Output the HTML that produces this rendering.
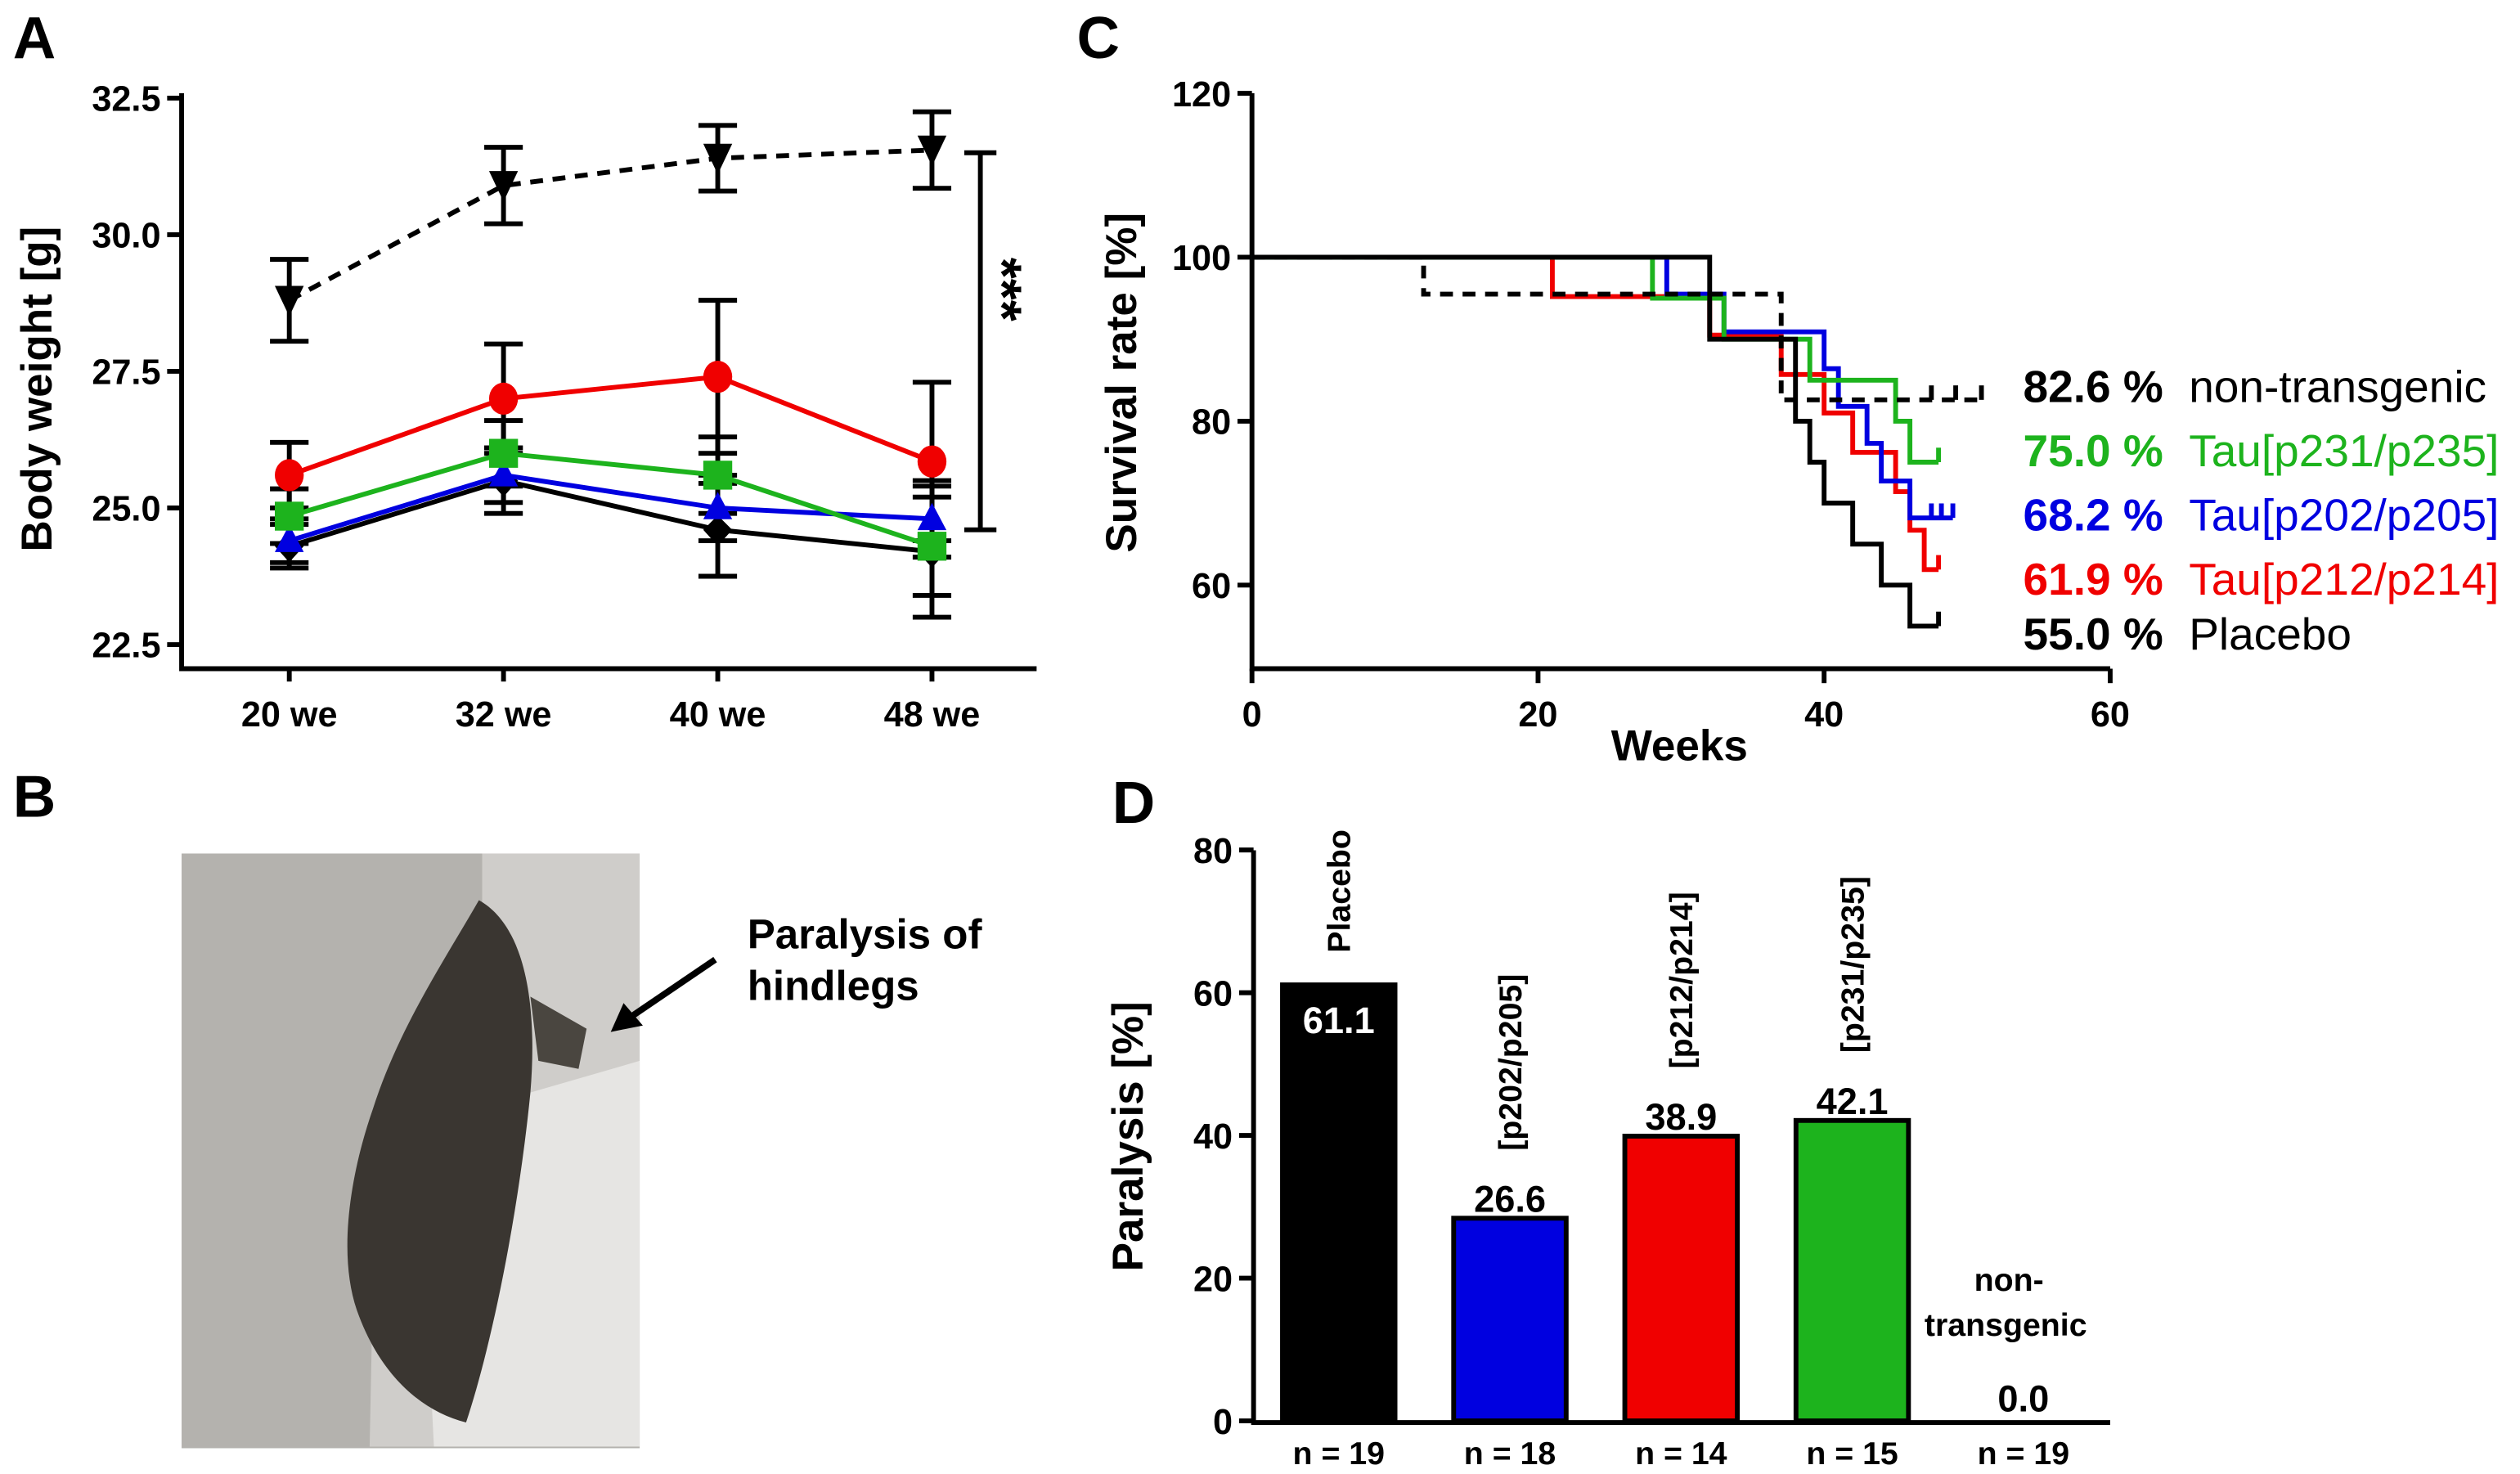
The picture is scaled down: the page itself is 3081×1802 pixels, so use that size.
<!DOCTYPE html>
<html><head><meta charset="utf-8"><style>
html,body{margin:0;padding:0;background:#fff}
svg{display:block;font-family:"Liberation Sans",Arial,sans-serif}
</style></head><body>
<svg id="fig" width="3081" height="1802" viewBox="0 0 1568 917" xmlns="http://www.w3.org/2000/svg">
<rect width="1568" height="917" fill="#fff"/>
<g font-weight="bold" font-size="37">
<text x="8" y="36">A</text>
<text x="8" y="508">B</text>
<text x="670" y="36">C</text>
<text x="692" y="512">D</text>
</g>
<g id="pA"></g>
<g id="pB">
<rect x="113" y="531" width="285" height="370" fill="#b4b2ae"/>
<path d="M300 531 L398 531 L398 900 L230 900 L232 800 L300 700 Z" fill="#cfcdca"/>
<path d="M260 700 L398 660 L398 900 L270 900 Z" fill="#e6e5e3"/>
<path d="M298 560 C325 575 335 620 330 680 C322 760 305 840 290 885 C262 878 236 855 222 815 C210 780 218 730 232 690 C248 640 275 600 298 560 Z" fill="#3a3631"/>
<path d="M330 620 L365 640 L360 665 L335 660 Z" fill="#4a4640"/>
<line x1="445" y1="597" x2="392" y2="633" stroke="#000" stroke-width="4"/>
<polygon points="380,642 388,624 400,638" fill="#000"/>
<text x="465" y="590" font-size="26" font-weight="bold">Paralysis of</text>
<text x="465" y="622" font-size="26" font-weight="bold">hindlegs</text>
</g>
<g id="pC"></g>
<g id="pD"></g>
</svg>
<script>
// ---------- Panel A data ----------
const aCats = ["20 we","32 we","40 we","48 we"];
const aTicks = [22.5,25.0,27.5,30.0,32.5];
const aNontg = [28.8,30.9,31.4,31.55];
const aNontgErr = [0.75,0.7,0.6,0.7];
const aRed = [25.6,27.0,27.4,25.85];
const aRedErr = [0.6,1.0,1.4,1.45];
const aGreen = [24.85,26.0,25.6,24.3];
const aGreenErr = [0.5,0.6,0.7,0.9];
const aBlue = [24.4,25.6,25.0,24.8];
const aBlueErr = [0.4,0.5,0.6,0.7];
const aBlack = [24.3,25.5,24.6,24.2];
const aBlackErr = [0.4,0.6,0.85,1.2];
// ---------- Panel C data ----------
const cTimesPlacebo=[0,32,38,39,40,42,44,46,48], cSurvPlacebo=[100,90,80,75,70,65,60,55,55];
const cTimesNontg=[0,12,37,51], cSurvNontg=[100,95.5,82.6,82.6];
const cTimesGreen=[0,28,33,39,45,46,48], cSurvGreen=[100,95,90,85,80,75,75];
const cTimesBlue=[0,29,33,40,41,43,44,46,49], cSurvBlue=[100,95.5,90.9,86.4,81.8,77.3,72.7,68.2,68.2];
const cTimesRed=[0,21,32,37,40,42,45,46,47,48], cSurvRed=[100,95.2,90.5,85.7,81,76.2,71.4,66.7,61.9,61.9];
const cXTicks=[0,20,40,60], cYTicks=[60,80,100,120];
const cPct=["82.6 %","75.0 %","68.2 %","61.9 %","55.0 %"];
const cNames=["non-transgenic","Tau[p231/p235]","Tau[p202/p205]","Tau[p212/p214]","Placebo"];
const cColors=["#000","#1db31d","#0000e0","#f00000","#000"];
// ---------- Panel D data ----------
const dNames=["Placebo","[p202/p205]","[p212/p214]","[p231/p235]","non-transgenic"];
const dValues=[61.1,28.4,39.9,42.1,0];
const dLabels=["61.1","26.6","38.9","42.1","0.0"];
const dN=["n = 19","n = 18","n = 14","n = 15","n = 19"];
const dColors=["#000","#0000e0","#f00000","#1db31d","#fff"];
const dTicks=[0,20,40,60,80];

const NS="http://www.w3.org/2000/svg";
function mk(parent,tag,attrs,text){const e=document.createElementNS(NS,tag);for(const k in attrs)e.setAttribute(k,attrs[k]);if(text!==undefined)e.textContent=text;parent.appendChild(e);return e;}

// ---- Panel A ----
(function(){
const g=document.getElementById('pA');
const ay=v=>401-(v-22.5)*34;
const ax=i=>180+i*133.3;
let e=mk(g,'path',{d:'M113 58 L113 416 L645 416',fill:'none',stroke:'#000','stroke-width':3});

aTicks.forEach(t=>{mk(g,'line',{x1:104,x2:113,y1:ay(t),y2:ay(t),stroke:'#000','stroke-width':3});
 e=mk(g,'text',{x:100,y:ay(t)+8,'text-anchor':'end','font-size':22,'font-weight':'bold'},t.toFixed(1));
 });
aCats.forEach((c,i)=>{mk(g,'line',{x1:ax(i),x2:ax(i),y1:416,y2:424,stroke:'#000','stroke-width':3});
 e=mk(g,'text',{x:ax(i),y:452,'text-anchor':'middle','font-size':22,'font-weight':'bold'},c);
 });
e=mk(g,'text',{x:0,y:0,transform:'translate(32,242) rotate(-90)','text-anchor':'middle','font-size':27,'font-weight':'bold'},'Body weight [g]');

const series=[[aBlack,aBlackErr,'#000','diamond',''],[aBlue,aBlueErr,'#0000e0','tri',''],[aGreen,aGreenErr,'#1db31d','sq',''],[aRed,aRedErr,'#f00000','circ',''],[aNontg,aNontgErr,'#000','tridown','8,6']];
series.forEach(([v,er,col,m,dash])=>{
 v.forEach((y,i)=>{const x=ax(i);mk(g,'path',{d:`M${x} ${ay(y+er[i])}V${ay(y-er[i])}M${x-12} ${ay(y+er[i])}h24M${x-12} ${ay(y-er[i])}h24`,stroke:'#000','stroke-width':3,fill:'none'});});
});
series.forEach(([v,er,col,m,dash])=>{
 e=mk(g,'polyline',{points:v.map((y,i)=>ax(i)+','+ay(y)).join(' '),fill:'none',stroke:col,'stroke-width':3,'stroke-dasharray':dash||'none'});
 
 v.forEach((y,i)=>{const x=ax(i),Y=ay(y);let p;
  if(m==='circ')p=mk(g,'ellipse',{cx:x,cy:Y,rx:9,ry:10,fill:col});
  else if(m==='sq')p=mk(g,'rect',{x:x-9,y:Y-9,width:18,height:18,fill:col});
  else if(m==='tri')p=mk(g,'polygon',{points:`${x-9},${Y+7} ${x+9},${Y+7} ${x},${Y-10}`,fill:col});
  else if(m==='tridown')p=mk(g,'polygon',{points:`${x-9},${Y-9} ${x+9},${Y-9} ${x},${Y+10}`,fill:col});
  else p=mk(g,'polygon',{points:`${x-9},${Y} ${x},${Y-9} ${x+9},${Y} ${x},${Y+10}`,fill:col});
  });
});
e=mk(g,'path',{d:`M600 ${ay(31.5)}h20M610 ${ay(31.5)}V${ay(24.6)}M600 ${ay(24.6)}h20`,stroke:'#000','stroke-width':3,fill:'none'});

e=mk(g,'text',{x:0,y:0,transform:`translate(612,180) rotate(90)`,'text-anchor':'middle','font-size':34,'font-weight':'bold'},'***');

})();

// ---- Panel C ----
(function(){
const g=document.getElementById('pC');
const cx=t=>779+t*8.9, cy=v=>160-(v-100)*5.1;
let e=mk(g,'path',{d:'M779 58 L779 416 L1313 416',fill:'none',stroke:'#000','stroke-width':3});

cYTicks.forEach(t=>{mk(g,'line',{x1:770,x2:779,y1:cy(t),y2:cy(t),stroke:'#000','stroke-width':3});
 e=mk(g,'text',{x:766,y:cy(t)+8,'text-anchor':'end','font-size':22,'font-weight':'bold'},t);
 });
cXTicks.forEach(t=>{mk(g,'line',{x1:cx(t),x2:cx(t),y1:416,y2:425,stroke:'#000','stroke-width':3});
 e=mk(g,'text',{x:cx(t),y:452,'text-anchor':'middle','font-size':22,'font-weight':'bold'},t);
 });
e=mk(g,'text',{x:1045,y:473,'text-anchor':'middle','font-size':27,'font-weight':'bold'},'Weeks');

e=mk(g,'text',{x:0,y:0,transform:'translate(707,238) rotate(-90)','text-anchor':'middle','font-size':27,'font-weight':'bold'},'Survival rate [%]');

const S=[[cTimesRed,cSurvRed,'#f00000',''],[cTimesBlue,cSurvBlue,'#0000e0',''],[cTimesGreen,cSurvGreen,'#1db31d',''],[cTimesNontg,cSurvNontg,'#000','8,6'],[cTimesPlacebo,cSurvPlacebo,'#000','']];
S.forEach(([T,V,col,dash])=>{
 let d=`M${cx(T[0])} ${cy(V[0])}`;
 for(let i=1;i<T.length;i++){d+=`H${cx(T[i])}V${cy(V[i])}`;}
 e=mk(g,'path',{d,fill:'none',stroke:col,'stroke-width':3,'stroke-dasharray':dash||'none'});
 
 const tl=T[T.length-1],vl=V[V.length-1];
 e=mk(g,'line',{x1:cx(tl),x2:cx(tl),y1:cy(vl),y2:cy(vl)-9,stroke:col,'stroke-width':3});
 
});
[47.5,49.2].forEach(t=>{mk(g,'line',{x1:cx(t),x2:cx(t),y1:cy(82.6),y2:cy(82.6)-9,stroke:'#000','stroke-width':3});});
[47.5,48.2].forEach(t=>{mk(g,'line',{x1:cx(t),x2:cx(t),y1:cy(68.2),y2:cy(68.2)-9,stroke:'#0000e0','stroke-width':3});});
const ys=[250,290,330,370,404];
cPct.forEach((p,i)=>{
 e=mk(g,'text',{x:1346,y:ys[i],'text-anchor':'end','font-size':28,'font-weight':'bold',fill:cColors[i]},p);
 
 e=mk(g,'text',{x:1362,y:ys[i],'font-size':28,fill:cColors[i]},cNames[i]);
 
});
})();

// ---- Panel D ----
(function(){
const g=document.getElementById('pD');
const dy=v=>884-v*4.44, dx=i=>833+i*106.5;
let e=mk(g,'path',{d:'M780 529 L780 885 L1313 885',fill:'none',stroke:'#000','stroke-width':3});

dTicks.forEach(t=>{mk(g,'line',{x1:771,x2:780,y1:dy(t),y2:dy(t),stroke:'#000','stroke-width':3});
 e=mk(g,'text',{x:767,y:dy(t)+8,'text-anchor':'end','font-size':22,'font-weight':'bold'},t);
 });
e=mk(g,'text',{x:0,y:0,transform:'translate(711,707) rotate(-90)','text-anchor':'middle','font-size':27,'font-weight':'bold'},'Paralysis [%]');

dValues.forEach((v,i)=>{
 const x=dx(i);
 if(v>0){e=mk(g,'rect',{x:x-35,y:dy(v),width:70,height:884-dy(v),fill:dColors[i],stroke:'#000','stroke-width':3});
  }
 const inside=i===0;
 e=mk(g,'text',{x:x,y:inside?dy(v)+30:dy(v)-4,'text-anchor':'middle','font-size':23,'font-weight':'bold',fill:inside?'#fff':'#000'},dLabels[i]);
 if(i===4)e.setAttribute('y',878);
 
 e=mk(g,'text',{x:x,y:911,'text-anchor':'middle','font-size':20,'font-weight':'bold'},dN[i]);
 
 if(i<4){const base=inside?dy(v)-20:dy(v)-42;
  e=mk(g,'text',{x:0,y:0,transform:`translate(${x+7},${base}) rotate(-90)`,'font-size':20,'font-weight':'bold'},dNames[i]);
  }
});
e=mk(g,'text',{x:1250,y:803,'text-anchor':'middle','font-size':20,'font-weight':'bold'},'non-');

e=mk(g,'text',{x:1248,y:831,'text-anchor':'middle','font-size':20,'font-weight':'bold'},'transgenic');

})();
</script>
</body></html>
